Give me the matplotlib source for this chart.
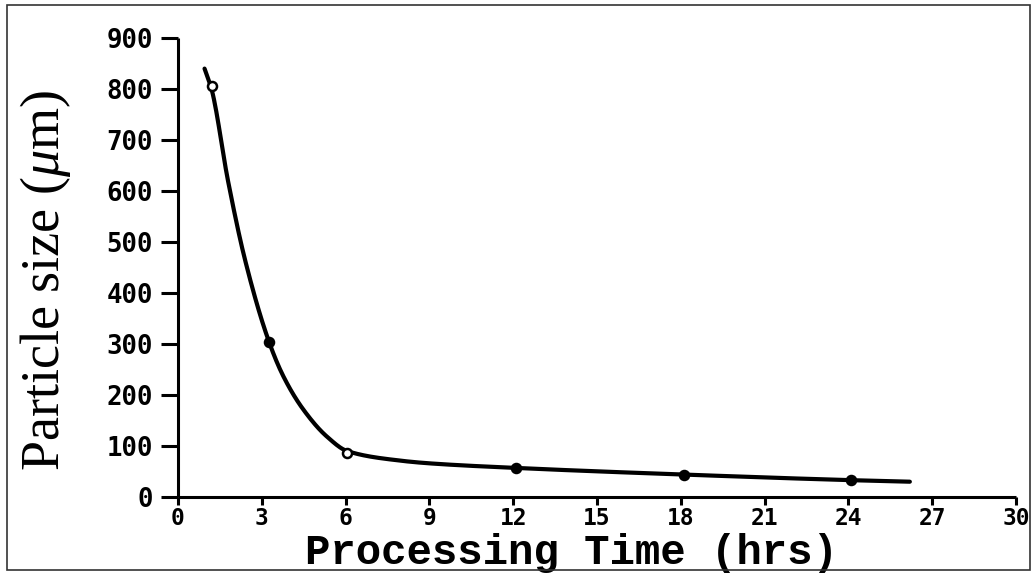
import numpy as np
import matplotlib
matplotlib.use("Agg")
import matplotlib.pyplot as plt
from matplotlib.patches import Rectangle

# ---- data ----
time_hrs = [1.2, 3.26, 6.06, 12.1, 18.1, 24.1]
particle_um = [805, 304, 87, 57, 44, 33]
open_marker = [True, False, True, False, False, False]

# fitted curve
curve_x = [0.95, 1.2, 1.79, 2.4, 3.26, 3.76, 4.48, 5.34, 6.06, 7.85, 9.0, 12.1, 18.1, 24.1, 26.2]
curve_y = [840, 800, 620, 465, 304, 238, 172, 118, 90, 72, 66, 57, 44, 33, 30]

x_ticks = [0, 3, 6, 9, 12, 15, 18, 21, 24, 27, 30]
y_ticks = [0, 100, 200, 300, 400, 500, 600, 700, 800, 900]


def smooth(xk, yk, xs):
    """monotone cubic Hermite (Fritsch-Carlson) through the read points"""
    xk = np.asarray(xk, float); yk = np.asarray(yk, float)
    h = np.diff(xk); d = np.diff(yk) / h
    m = np.zeros_like(yk)
    m[0], m[-1] = d[0], d[-1]
    for k in range(1, len(xk) - 1):
        if d[k - 1] * d[k] <= 0:
            m[k] = 0
        else:
            w1 = 2 * h[k] + h[k - 1]; w2 = h[k] + 2 * h[k - 1]
            m[k] = (w1 + w2) / (w1 / d[k - 1] + w2 / d[k])
    idx = np.clip(np.searchsorted(xk, xs) - 1, 0, len(xk) - 2)
    t = (xs - xk[idx]) / h[idx]
    h00 = 2 * t**3 - 3 * t**2 + 1; h10 = t**3 - 2 * t**2 + t
    h01 = -2 * t**3 + 3 * t**2; h11 = t**3 - t**2
    return h00 * yk[idx] + h10 * h[idx] * m[idx] + h01 * yk[idx + 1] + h11 * h[idx] * m[idx + 1]


plt.rcParams['mathtext.fontset'] = 'custom'
plt.rcParams['mathtext.it'] = 'Liberation Serif:italic'
plt.rcParams['mathtext.rm'] = 'Liberation Serif'

fig = plt.figure(figsize=(10.35, 5.73), dpi=100)
fig.patch.set_facecolor('white')
ax = fig.add_axes([178 / 1035, 1 - 497 / 573, (1016 - 178) / 1035, (497 - 38) / 573])

xs = np.linspace(curve_x[0], curve_x[-1], 600)
ax.plot(xs, smooth(curve_x, curve_y, xs), color='black', lw=3.0, solid_capstyle='round', zorder=2)

for x, y, o in zip(time_hrs, particle_um, open_marker):
    ax.plot([x], [y], marker='o', ms=6.5, mew=1.8, color='black',
            mfc='white' if o else 'black', zorder=3)

ax.set_xlim(0, 30)
ax.set_ylim(0, 900)
ax.set_xticks(x_ticks)
ax.set_yticks(y_ticks)
ax.set_xticklabels([str(v) for v in x_ticks], fontfamily='DejaVu Sans Mono',
                   fontweight='bold', fontsize=16.5)
ax.set_yticklabels([str(v) for v in y_ticks], fontfamily='DejaVu Sans Mono',
                   fontweight='bold', fontsize=18.5)

for s in ['top', 'right']:
    ax.spines[s].set_visible(False)
for s in ['left', 'bottom']:
    ax.spines[s].set_linewidth(2.2)
    ax.spines[s].set_capstyle('butt')

ax.tick_params(axis='y', direction='out', length=12, width=2.2, pad=6)
ax.tick_params(axis='x', direction='out', length=6, width=2.2, pad=1)

ax.set_xlabel('Processing Time (hrs)', fontfamily='Liberation Mono', fontweight='bold',
              fontsize=30.5)
ax.xaxis.set_label_coords(0.469, (497 - 564) / 459)
ax.xaxis.label.set_va('baseline')

ax.set_ylabel(r'Particle size ($\mu$m)', fontfamily='Liberation Serif', fontsize=39)
ax.yaxis.set_label_coords(-0.158, 0.473)
ax.yaxis.label.set_va('center')

fig.patches.append(Rectangle((7 / 1035, 3 / 573), 1023 / 1035, 565 / 573,
                             transform=fig.transFigure, fill=False,
                             edgecolor='#333333', lw=1.2))

fig.savefig('out.png', dpi=100, facecolor='white')
